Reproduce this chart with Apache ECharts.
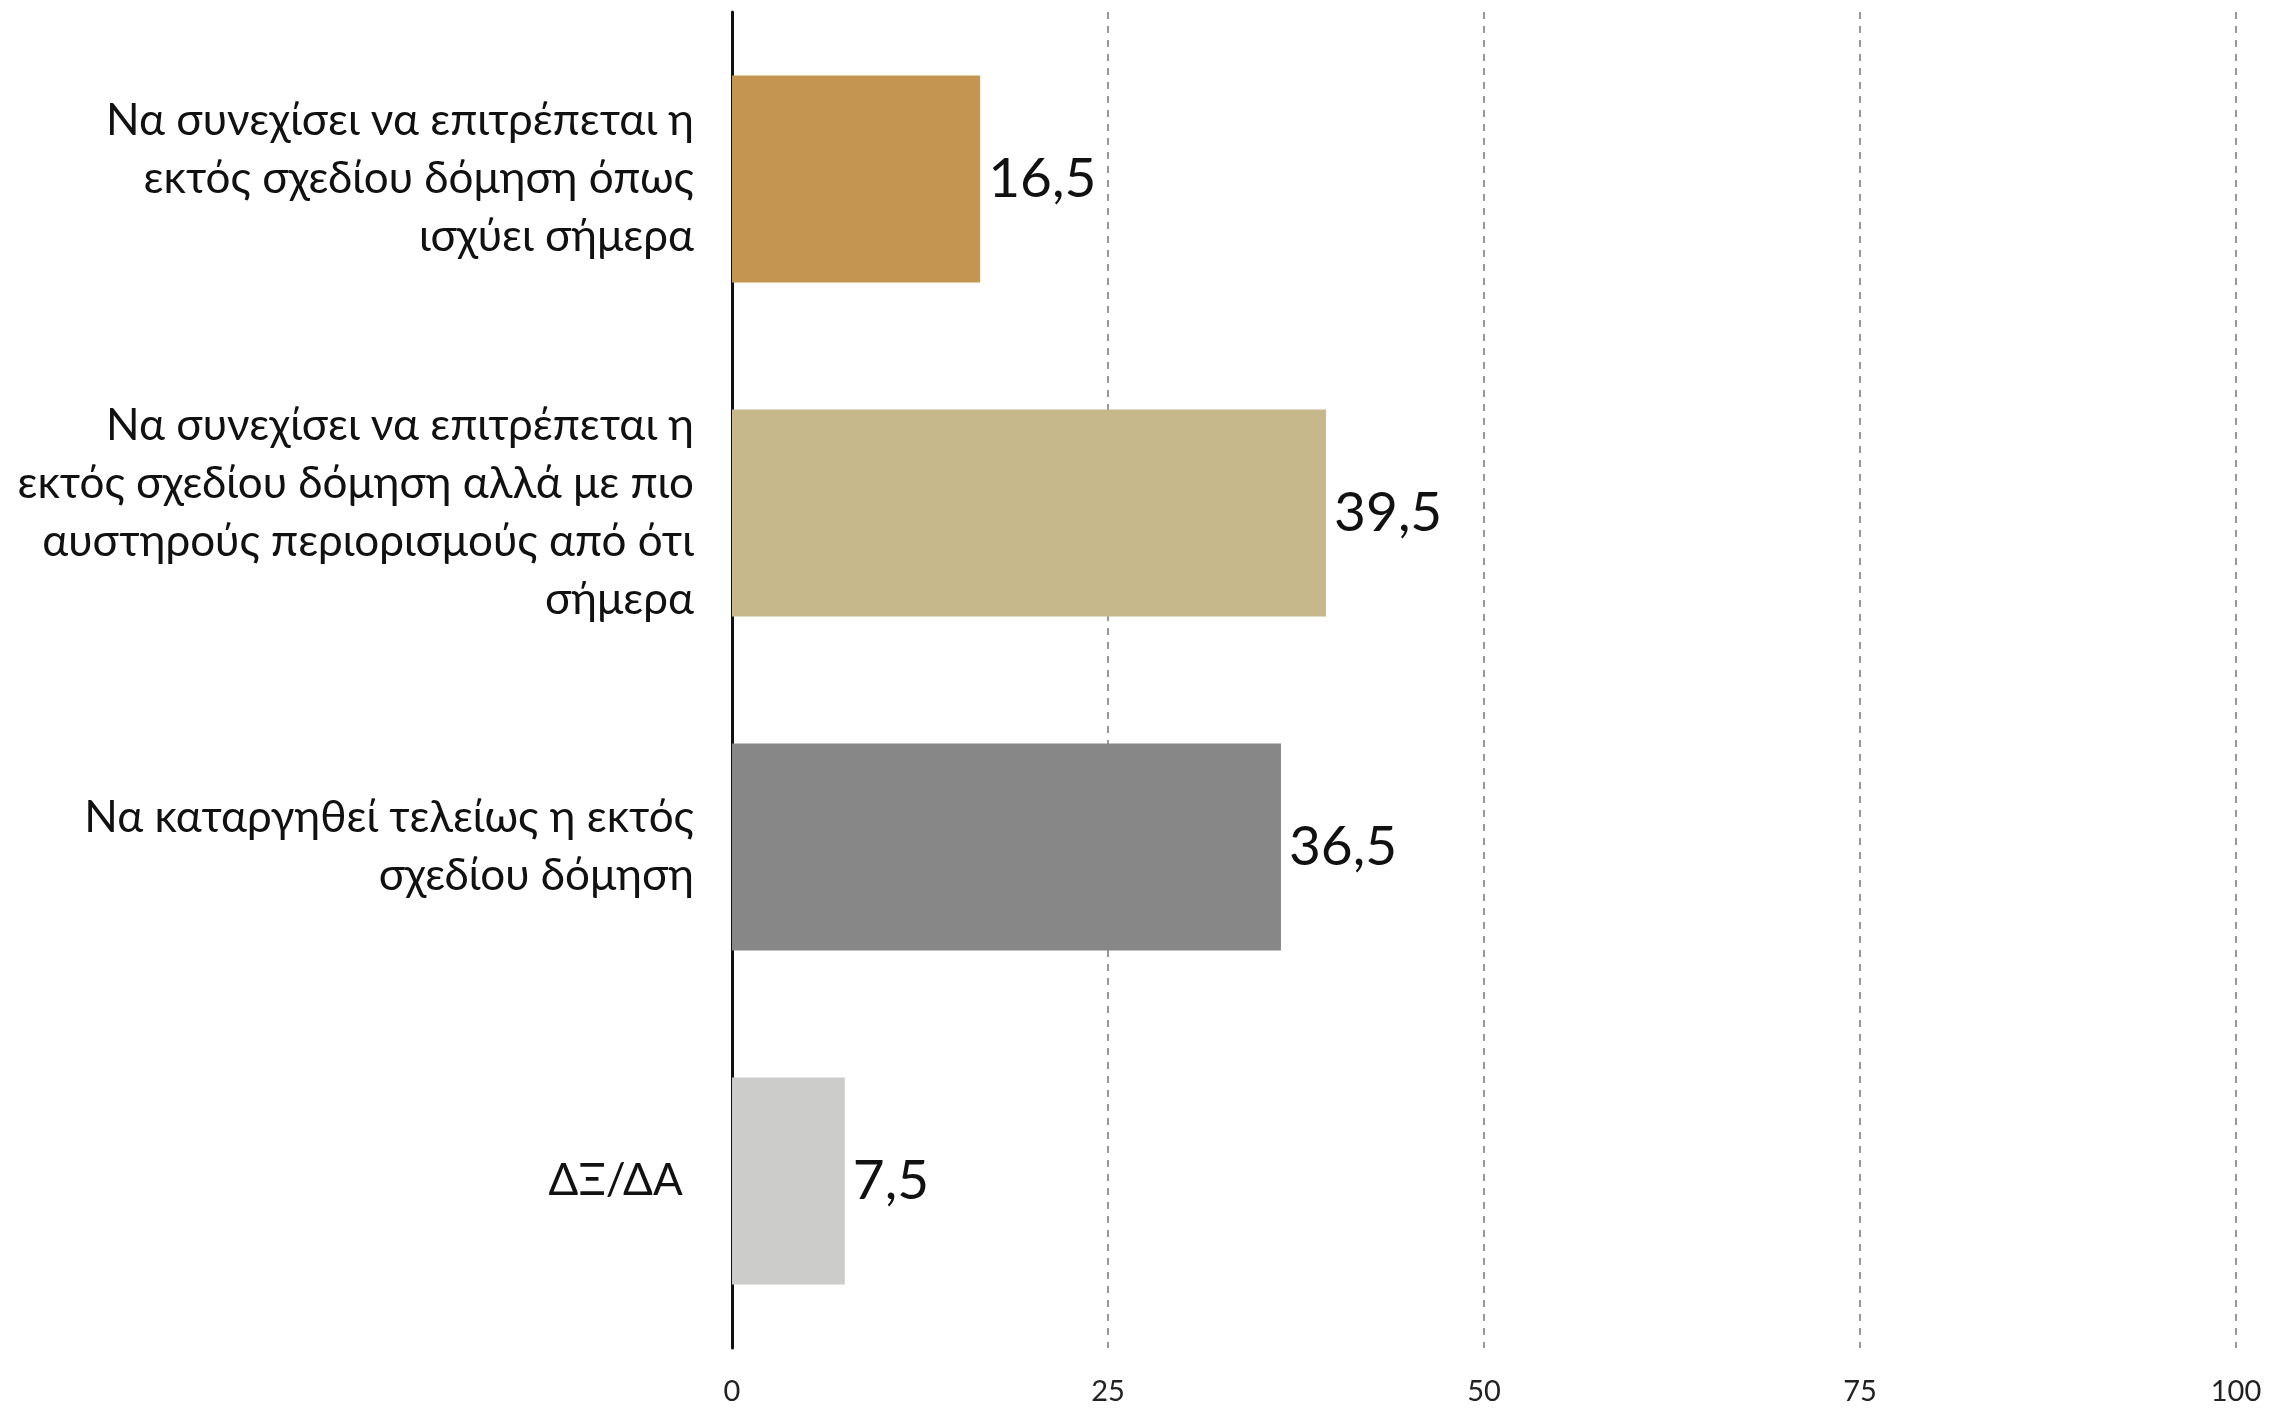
<!DOCTYPE html>
<html>
<head>
<meta charset="utf-8">
<title>Εκτός σχεδίου δόμηση</title>
<script src="https://cdn.jsdelivr.net/npm/echarts@6/dist/echarts.min.js"></script>
<style>
  html, body { margin: 0; padding: 0; background: #fff; }
  #chart { width: 2277px; height: 1408px; }
</style>
</head>
<body>
<div id="chart"></div>
<script>
// κατηγορίες (με τις αλλαγές γραμμής όπως στο πρωτότυπο)
var categories = [
    'Να συνεχίσει να επιτρέπεται η\nεκτός σχεδίου δόμηση όπως\nισχύει σήμερα',
    'Να συνεχίσει να επιτρέπεται η\nεκτός σχεδίου δόμηση αλλά με πιο\nαυστηρούς περιορισμούς από ότι\nσήμερα',
    'Να καταργηθεί τελείως η εκτός\nσχεδίου δόμηση',
    'ΔΞ/ΔΑ '
];
var values = [16.5, 39.5, 36.5, 7.5];
var barColors = ['#C39551', '#C6B88B', '#878787', '#CCCCCB'];
var xTicks = [0, 25, 50, 75, 100];

var chart = echarts.init(document.getElementById('chart'));

var seriesData = [];
for (var i = 0; i < values.length; i++) {
    seriesData.push({
        value: values[i],
        itemStyle: { color: barColors[i] }
    });
}

chart.setOption({
    animation: false,
    backgroundColor: '#fff',
    textStyle: { fontFamily: 'Lato' },
    grid: { left: 732, right: 41, top: 12, bottom: 60 },
    xAxis: {
        type: 'value',
        min: xTicks[0],
        max: xTicks[xTicks.length - 1],
        interval: 25,
        axisLine: { show: false },
        axisTick: { show: false },
        axisLabel: { fontSize: 29, color: '#222', margin: 29, fontFamily: 'Lato' },
        splitLine: { show: true, lineStyle: { color: '#999', width: 2, type: [7, 7] } }
    },
    yAxis: {
        type: 'category',
        inverse: true,
        data: categories,
        axisLine: { show: true, lineStyle: { color: '#111', width: 3 } },
        axisTick: { show: false },
        axisLabel: {
            fontSize: 44, color: '#111', margin: 38, lineHeight: 58,
            align: 'right', fontFamily: 'Lato'
        }
    },
    series: [{
        type: 'bar',
        data: seriesData,
        barCategoryGap: '38%',
        label: {
            show: true,
            position: 'right',
            distance: 8,
            fontSize: 55,
            color: '#111',
            fontFamily: 'Lato',
            formatter: function (p) { return String(p.value).replace('.', ','); }
        }
    }]
});
</script>
</body>
</html>
